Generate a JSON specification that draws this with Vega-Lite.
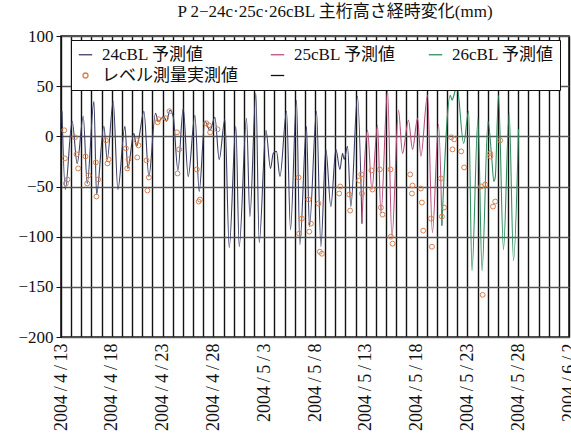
{
  "$schema": "https://vega.github.io/schema/vega-lite/v6.json",
  "width": 508,
  "height": 301,
  "autosize": {"type": "none"},
  "padding": {"left": 61, "top": 36, "right": 2, "bottom": 100},
  "background": "white",
  "config": {
    "font": "Liberation Serif, Noto Sans CJK JP",
    "view": {"stroke": "#111", "strokeWidth": 1.5}
  },
  "title": {
    "text": "P 2−24c·25c·26cBL 主桁高さ経時変化(mm)",
    "fontSize": 17,
    "fontWeight": "normal",
    "font": "Liberation Serif, Noto Sans CJK JP",
    "color": "#111",
    "dx": 20,
    "offset": 6
  },
  "datasets": {
    "pred": [
      {"t": "2004-04-13T02:24", "value": 25, "series": "24cBL 予測値"},
      {"t": "2004-04-13T10:05", "value": -53, "series": "24cBL 予測値"},
      {"t": "2004-04-14T02:24", "value": 15, "series": "24cBL 予測値"},
      {"t": "2004-04-14T14:10", "value": -27, "series": "24cBL 予測値"},
      {"t": "2004-04-15T04:34", "value": 20, "series": "24cBL 予測値"},
      {"t": "2004-04-15T13:55", "value": -47, "series": "24cBL 予測値"},
      {"t": "2004-04-16T05:46", "value": 35, "series": "24cBL 予測値"},
      {"t": "2004-04-16T12:00", "value": -58, "series": "24cBL 予測値"},
      {"t": "2004-04-17T05:17", "value": 10, "series": "24cBL 予測値"},
      {"t": "2004-04-17T13:12", "value": -23, "series": "24cBL 予測値"},
      {"t": "2004-04-18T03:22", "value": 35, "series": "24cBL 予測値"},
      {"t": "2004-04-18T14:24", "value": -53, "series": "24cBL 予測値"},
      {"t": "2004-04-19T06:58", "value": 10, "series": "24cBL 予測値"},
      {"t": "2004-04-19T13:55", "value": -32, "series": "24cBL 予測値"},
      {"t": "2004-04-20T04:05", "value": 3, "series": "24cBL 予測値"},
      {"t": "2004-04-20T10:19", "value": -10, "series": "24cBL 予測値"},
      {"t": "2004-04-20T15:50", "value": -2, "series": "24cBL 予測値"},
      {"t": "2004-04-21T03:50", "value": 25, "series": "24cBL 予測値"},
      {"t": "2004-04-21T15:36", "value": -40, "series": "24cBL 予測値"},
      {"t": "2004-04-22T07:12", "value": 23, "series": "24cBL 予測値"},
      {"t": "2004-04-22T13:41", "value": 15, "series": "24cBL 予測値"},
      {"t": "2004-04-23T03:07", "value": 20, "series": "24cBL 予測値"},
      {"t": "2004-04-23T09:07", "value": 15, "series": "24cBL 予測値"},
      {"t": "2004-04-23T17:17", "value": 26, "series": "24cBL 予測値"},
      {"t": "2004-04-24T00:58", "value": 20, "series": "24cBL 予測値"},
      {"t": "2004-04-24T12:14", "value": -34, "series": "24cBL 予測値"},
      {"t": "2004-04-25T00:43", "value": 28, "series": "24cBL 予測値"},
      {"t": "2004-04-25T12:29", "value": -40, "series": "24cBL 予測値"},
      {"t": "2004-04-26T04:19", "value": 21, "series": "24cBL 予測値"},
      {"t": "2004-04-26T14:24", "value": -55, "series": "24cBL 予測値"},
      {"t": "2004-04-27T03:50", "value": 15, "series": "24cBL 予測値"},
      {"t": "2004-04-27T15:50", "value": 6, "series": "24cBL 予測値"},
      {"t": "2004-04-28T03:36", "value": 19, "series": "24cBL 予測値"},
      {"t": "2004-04-28T13:41", "value": -23, "series": "24cBL 予測値"},
      {"t": "2004-04-29T03:07", "value": 17, "series": "24cBL 予測値"},
      {"t": "2004-04-29T13:26", "value": -111, "series": "24cBL 予測値"},
      {"t": "2004-04-30T05:02", "value": 10, "series": "24cBL 予測値"},
      {"t": "2004-04-30T12:58", "value": -110, "series": "24cBL 予測値"},
      {"t": "2004-05-01T06:14", "value": 18, "series": "24cBL 予測値"},
      {"t": "2004-05-01T14:10", "value": -80, "series": "24cBL 予測値"},
      {"t": "2004-05-02T04:19", "value": 43, "series": "24cBL 予測値"},
      {"t": "2004-05-02T12:14", "value": -106, "series": "24cBL 予測値"},
      {"t": "2004-05-03T04:05", "value": 6, "series": "24cBL 予測値"},
      {"t": "2004-05-03T14:53", "value": -32, "series": "24cBL 予測値"},
      {"t": "2004-05-03T21:22", "value": -17, "series": "24cBL 予測値"},
      {"t": "2004-05-04T05:02", "value": -15, "series": "24cBL 予測値"},
      {"t": "2004-05-04T13:12", "value": -40, "series": "24cBL 予測値"},
      {"t": "2004-05-05T04:48", "value": 25, "series": "24cBL 予測値"},
      {"t": "2004-05-05T14:10", "value": -93, "series": "24cBL 予測値"},
      {"t": "2004-05-06T04:19", "value": 36, "series": "24cBL 予測値"},
      {"t": "2004-05-06T12:14", "value": -108, "series": "24cBL 予測値"},
      {"t": "2004-05-07T03:50", "value": 10, "series": "24cBL 予測値"},
      {"t": "2004-05-07T10:48", "value": -90, "series": "24cBL 予測値"},
      {"t": "2004-05-08T03:36", "value": 25, "series": "24cBL 予測値"},
      {"t": "2004-05-08T13:55", "value": -110, "series": "24cBL 予測値"},
      {"t": "2004-05-09T01:41", "value": -13, "series": "24cBL 予測値"},
      {"t": "2004-05-09T13:26", "value": -70, "series": "24cBL 予測値"},
      {"t": "2004-05-10T01:26", "value": -13, "series": "24cBL 予測値"},
      {"t": "2004-05-10T10:48", "value": -33, "series": "24cBL 予測値"},
      {"t": "2004-05-10T17:02", "value": -17, "series": "24cBL 予測値"},
      {"t": "2004-05-10T20:53", "value": -23, "series": "24cBL 予測値"},
      {"t": "2004-05-11T04:48", "value": -10, "series": "24cBL 予測値"},
      {"t": "2004-05-11T12:43", "value": -70, "series": "24cBL 予測値"},
      {"t": "2004-05-12T04:19", "value": 40, "series": "24cBL 予測値"},
      {"t": "2004-05-12T14:53", "value": -87, "series": "24cBL 予測値"},
      {"t": "2004-05-12T14:53", "value": -87, "series": "25cBL 予測値"},
      {"t": "2004-05-13T04:05", "value": 6, "series": "25cBL 予測値"},
      {"t": "2004-05-13T14:24", "value": -53, "series": "25cBL 予測値"},
      {"t": "2004-05-14T03:36", "value": 11, "series": "25cBL 予測値"},
      {"t": "2004-05-14T11:46", "value": -77, "series": "25cBL 予測値"},
      {"t": "2004-05-15T03:22", "value": 46, "series": "25cBL 予測値"},
      {"t": "2004-05-15T13:41", "value": -101, "series": "25cBL 予測値"},
      {"t": "2004-05-16T05:17", "value": 26, "series": "25cBL 予測値"},
      {"t": "2004-05-16T14:38", "value": -17, "series": "25cBL 予測値"},
      {"t": "2004-05-17T04:48", "value": 16, "series": "25cBL 予測値"},
      {"t": "2004-05-17T14:24", "value": -13, "series": "25cBL 予測値"},
      {"t": "2004-05-18T02:10", "value": 18, "series": "25cBL 予測値"},
      {"t": "2004-05-18T10:05", "value": -20, "series": "25cBL 予測値"},
      {"t": "2004-05-19T01:41", "value": 41, "series": "25cBL 予測値"},
      {"t": "2004-05-19T13:26", "value": -96, "series": "25cBL 予測値"},
      {"t": "2004-05-20T03:50", "value": 12, "series": "25cBL 予測値"},
      {"t": "2004-05-20T11:46", "value": -89, "series": "25cBL 予測値"},
      {"t": "2004-05-20T11:46", "value": -89, "series": "26cBL 予測値"},
      {"t": "2004-05-21T07:26", "value": 41, "series": "26cBL 予測値"},
      {"t": "2004-05-21T12:00", "value": 36, "series": "26cBL 予測値"},
      {"t": "2004-05-21T15:22", "value": 40, "series": "26cBL 予測値"},
      {"t": "2004-05-21T23:17", "value": 50, "series": "26cBL 予測値"},
      {"t": "2004-05-22T15:07", "value": -7, "series": "26cBL 予測値"},
      {"t": "2004-05-23T02:53", "value": 25, "series": "26cBL 予測値"},
      {"t": "2004-05-23T10:48", "value": -134, "series": "26cBL 予測値"},
      {"t": "2004-05-24T00:58", "value": 18, "series": "26cBL 予測値"},
      {"t": "2004-05-24T10:34", "value": -134, "series": "26cBL 予測値"},
      {"t": "2004-05-25T00:43", "value": 15, "series": "26cBL 予測値"},
      {"t": "2004-05-25T10:05", "value": -25, "series": "26cBL 予測値"},
      {"t": "2004-05-25T14:24", "value": -45, "series": "26cBL 予測値"},
      {"t": "2004-05-25T17:46", "value": -41, "series": "26cBL 予測値"},
      {"t": "2004-05-26T01:26", "value": 41, "series": "26cBL 予測値"},
      {"t": "2004-05-26T13:12", "value": -113, "series": "26cBL 予測値"},
      {"t": "2004-05-27T02:38", "value": 23, "series": "26cBL 予測値"},
      {"t": "2004-05-27T12:58", "value": -124, "series": "26cBL 予測値"},
      {"t": "2004-05-28T00:43", "value": 7, "series": "26cBL 予測値"}
    ],
    "meas": [
      {"t": "2004-04-13T07:41", "value": 6, "series": "レベル測量実測値"},
      {"t": "2004-04-13T09:07", "value": -22, "series": "レベル測量実測値"},
      {"t": "2004-04-13T11:31", "value": -47, "series": "レベル測量実測値"},
      {"t": "2004-04-13T15:22", "value": -43, "series": "レベル測量実測値"},
      {"t": "2004-04-14T08:53", "value": -1, "series": "レベル測量実測値"},
      {"t": "2004-04-14T12:43", "value": -18, "series": "レベル測量実測値"},
      {"t": "2004-04-14T16:34", "value": -32, "series": "レベル測量実測値"},
      {"t": "2004-04-15T09:50", "value": -20, "series": "レベル測量実測値"},
      {"t": "2004-04-15T13:55", "value": -47, "series": "レベル測量実測値"},
      {"t": "2004-04-15T17:02", "value": -39, "series": "レベル測量実測値"},
      {"t": "2004-04-16T10:19", "value": -26, "series": "レベル測量実測値"},
      {"t": "2004-04-16T11:46", "value": -60, "series": "レベル測量実測値"},
      {"t": "2004-04-16T15:50", "value": -43, "series": "レベル測量実測値"},
      {"t": "2004-04-17T10:05", "value": -4, "series": "レベル測量実測値"},
      {"t": "2004-04-17T13:55", "value": -27, "series": "レベル測量実測値"},
      {"t": "2004-04-17T16:19", "value": -23, "series": "レベル測量実測値"},
      {"t": "2004-04-19T09:22", "value": -12, "series": "レベル測量実測値"},
      {"t": "2004-04-19T12:29", "value": -32, "series": "レベル測量実測値"},
      {"t": "2004-04-19T15:22", "value": -23, "series": "レベル測量実測値"},
      {"t": "2004-04-20T10:19", "value": -4, "series": "レベル測量実測値"},
      {"t": "2004-04-20T12:00", "value": -21, "series": "レベル測量実測値"},
      {"t": "2004-04-20T15:07", "value": -9, "series": "レベル測量実測値"},
      {"t": "2004-04-21T10:05", "value": -24, "series": "レベル測量実測値"},
      {"t": "2004-04-21T12:14", "value": -54, "series": "レベル測量実測値"},
      {"t": "2004-04-21T15:36", "value": -41, "series": "レベル測量実測値"},
      {"t": "2004-04-22T12:00", "value": 14, "series": "レベル測量実測値"},
      {"t": "2004-04-22T14:24", "value": 17, "series": "レベル測量実測値"},
      {"t": "2004-04-23T07:41", "value": 18, "series": "レベル測量実測値"},
      {"t": "2004-04-23T16:19", "value": 25, "series": "レベル測量実測値"},
      {"t": "2004-04-24T09:50", "value": 4, "series": "レベル測量実測値"},
      {"t": "2004-04-24T11:17", "value": -37, "series": "レベル測量実測値"},
      {"t": "2004-04-24T15:07", "value": -13, "series": "レベル測量実測値"},
      {"t": "2004-04-26T08:53", "value": -33, "series": "レベル測量実測値"},
      {"t": "2004-04-26T13:12", "value": -65, "series": "レベル測量実測値"},
      {"t": "2004-04-26T16:19", "value": -63, "series": "レベル測量実測値"},
      {"t": "2004-04-27T07:12", "value": 13, "series": "レベル測量実測値"},
      {"t": "2004-04-27T13:12", "value": 11, "series": "レベル測量実測値"},
      {"t": "2004-04-27T16:19", "value": 4, "series": "レベル測量実測値"},
      {"t": "2004-04-28T09:36", "value": 7, "series": "レベル測量実測値"},
      {"t": "2004-05-06T09:07", "value": -41, "series": "レベル測量実測値"},
      {"t": "2004-05-06T10:34", "value": -97, "series": "レベル測量実測値"},
      {"t": "2004-05-06T16:48", "value": -82, "series": "レベル測量実測値"},
      {"t": "2004-05-07T08:38", "value": -63, "series": "レベル測量実測値"},
      {"t": "2004-05-07T10:19", "value": -95, "series": "レベル測量実測値"},
      {"t": "2004-05-07T14:24", "value": -87, "series": "レベル測量実測値"},
      {"t": "2004-05-08T08:10", "value": -67, "series": "レベル測量実測値"},
      {"t": "2004-05-08T11:31", "value": -115, "series": "レベル測量実測値"},
      {"t": "2004-05-08T16:19", "value": -117, "series": "レベル測量実測値"},
      {"t": "2004-05-10T09:07", "value": -57, "series": "レベル測量実測値"},
      {"t": "2004-05-10T11:31", "value": -50, "series": "レベル測量実測値"},
      {"t": "2004-05-11T08:53", "value": -58, "series": "レベル測量実測値"},
      {"t": "2004-05-11T11:02", "value": -74, "series": "レベル測量実測値"},
      {"t": "2004-05-12T08:24", "value": -44, "series": "レベル測量実測値"},
      {"t": "2004-05-12T13:12", "value": -38, "series": "レベル測量実測値"},
      {"t": "2004-05-12T14:53", "value": -57, "series": "レベル測量実測値"},
      {"t": "2004-05-13T13:12", "value": -34, "series": "レベル測量実測値"},
      {"t": "2004-05-13T15:50", "value": -53, "series": "レベル測量実測値"},
      {"t": "2004-05-14T09:07", "value": -33, "series": "レベル測量実測値"},
      {"t": "2004-05-14T11:46", "value": -71, "series": "レベル測量実測値"},
      {"t": "2004-05-14T15:36", "value": -78, "series": "レベル測量実測値"},
      {"t": "2004-05-15T10:19", "value": -33, "series": "レベル測量実測値"},
      {"t": "2004-05-15T11:17", "value": -100, "series": "レベル測量実測値"},
      {"t": "2004-05-15T15:07", "value": -107, "series": "レベル測量実測値"},
      {"t": "2004-05-17T08:53", "value": -38, "series": "レベル測量実測値"},
      {"t": "2004-05-17T12:58", "value": -57, "series": "レベル測量実測値"},
      {"t": "2004-05-17T14:24", "value": -49, "series": "レベル測量実測値"},
      {"t": "2004-05-18T10:05", "value": -52, "series": "レベル測量実測値"},
      {"t": "2004-05-18T12:29", "value": -66, "series": "レベル測量実測値"},
      {"t": "2004-05-18T15:36", "value": -94, "series": "レベル測量実測値"},
      {"t": "2004-05-19T09:50", "value": -82, "series": "レベル測量実測値"},
      {"t": "2004-05-19T12:14", "value": -110, "series": "レベル測量実測値"},
      {"t": "2004-05-20T09:22", "value": -42, "series": "レベル測量実測値"},
      {"t": "2004-05-20T11:46", "value": -80, "series": "レベル測量実測値"},
      {"t": "2004-05-20T16:48", "value": -71, "series": "レベル測量実測値"},
      {"t": "2004-05-21T09:50", "value": -1, "series": "レベル測量実測値"},
      {"t": "2004-05-21T12:43", "value": -13, "series": "レベル測量実測値"},
      {"t": "2004-05-21T16:48", "value": -3, "series": "レベル測量実測値"},
      {"t": "2004-05-22T09:22", "value": -15, "series": "レベル測量実測値"},
      {"t": "2004-05-22T16:19", "value": -31, "series": "レベル測量実測値"},
      {"t": "2004-05-24T08:24", "value": -50, "series": "レベル測量実測値"},
      {"t": "2004-05-24T12:00", "value": -158, "series": "レベル測量実測値"},
      {"t": "2004-05-24T18:00", "value": -48, "series": "レベル測量実測値"},
      {"t": "2004-05-25T05:46", "value": -17, "series": "レベル測量実測値"},
      {"t": "2004-05-25T06:14", "value": -20, "series": "レベル測量実測値"},
      {"t": "2004-05-25T12:29", "value": -70, "series": "レベル測量実測値"},
      {"t": "2004-05-25T17:46", "value": -65, "series": "レベル測量実測値"},
      {"t": "2004-05-26T05:31", "value": -4, "series": "レベル測量実測値"}
    ]
  },
  "encoding": {
    "x": {
      "field": "t",
      "type": "temporal",
      "scale": {
        "domain": [{"year": 2004, "month": 4, "date": 13}, {"year": 2004, "month": 6, "date": 2}],
        "nice": false
      },
      "axis": {
        "title": null,
        "grid": true,
        "gridColor": "#111",
        "gridWidth": 1.4,
        "tickCount": {"interval": "day", "step": 1},
        "ticks": false,
        "domain": false,
        "labelAngle": -90,
        "labelOverlap": false,
        "labelFontSize": 18,
        "labelColor": "#111",
        "labelPadding": 6,
        "labelExpr": "(round((datum.value - datetime(2004,3,13))/86400000) % 5 === 0) ? timeFormat(datum.value, '%Y\u2009/\u2009%-m\u2009/\u2009%-d') : ''"
      }
    },
    "y": {
      "field": "value",
      "type": "quantitative",
      "scale": {"domain": [-200, 100], "nice": false},
      "axis": {
        "title": null,
        "values": [-200, -150, -100, -50, 0, 50, 100],
        "grid": true,
        "gridColor": "#555",
        "gridWidth": 1.3,
        "tickColor": "#111",
        "tickSize": 5,
        "domainColor": "#111",
        "labelFontSize": 17,
        "labelColor": "#111",
        "labelPadding": 3
      }
    },
    "color": {
      "field": "series",
      "type": "nominal",
      "scale": {
        "domain": ["24cBL 予測値", "25cBL 予測値", "26cBL 予測値", "レベル測量実測値", " "],
        "range": ["#3d4068", "#b8507e", "#2f8f5e", "#d4804e", "#111111"]
      },
      "legend": {
        "title": null,
        "orient": "none",
        "direction": "horizontal",
        "legendX": 10,
        "legendY": 4,
        "columns": 3,
        "gridAlign": "each",
        "columnPadding": 30,
        "rowPadding": 3,
        "padding": 6,
        "fillColor": "white",
        "strokeColor": "#111",
        "labelFontSize": 17,
        "labelColor": "#111",
        "labelOffset": 8,
        "labelLimit": 300,
        "symbolStrokeWidth": 1.3,
        "encode": {
          "symbols": {
            "update": {
              "shape": {"signal": "datum.value === 'レベル測量実測値' ? 'circle' : 'stroke'"},
              "size": {"signal": "datum.value === 'レベル測量実測値' ? 25 : 180"},
              "fill": {"value": "transparent"}
            }
          }
        }
      }
    }
  },
  "layer": [
    {
      "data": {"name": "pred"},
      "mark": {"type": "line", "interpolate": "monotone", "strokeWidth": 1.1}
    },
    {
      "data": {"name": "meas"},
      "mark": {"type": "point", "shape": "circle", "filled": false, "size": 24, "strokeWidth": 1, "opacity": 1}
    }
  ]
}
